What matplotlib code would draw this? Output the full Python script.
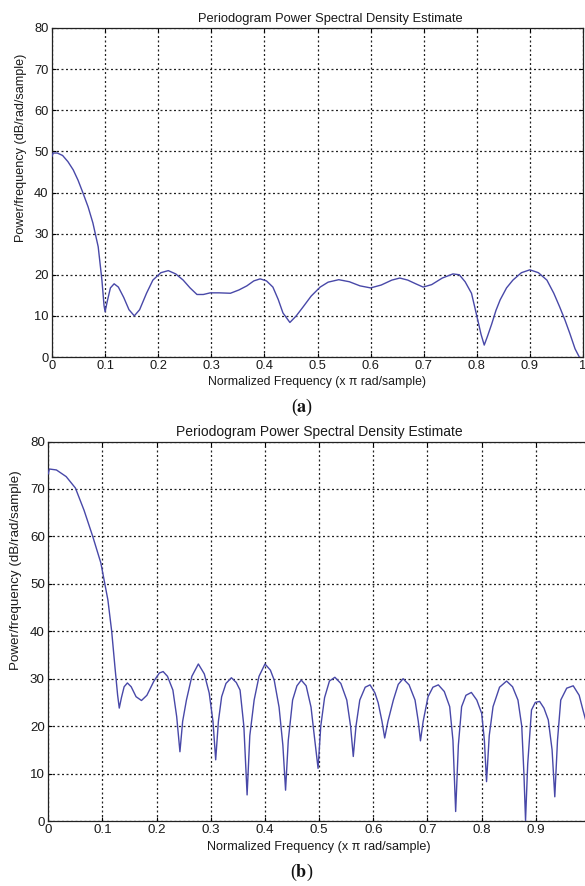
import matplotlib
matplotlib.use("Agg")
import matplotlib.pyplot as plt

plt.rcParams['font.family'] = ['Liberation Sans', 'DejaVu Sans']
plt.rcParams['mathtext.fontset'] = 'stix'

title = "Periodogram Power Spectral Density Estimate"
xlabel = "Normalized Frequency (x \u03c0 rad/sample)"
ylabel = "Power/frequency (dB/rad/sample)"

freq_a = [0.000, 0.002, 0.010, 0.020, 0.030, 0.040, 0.049, 0.058, 0.068, 0.077,
          0.087, 0.094, 0.098, 0.100, 0.104, 0.110, 0.117, 0.125, 0.135, 0.145,
          0.155, 0.165, 0.178, 0.190, 0.205, 0.219, 0.233, 0.247, 0.260, 0.273,
          0.285, 0.298, 0.315, 0.336, 0.352, 0.367, 0.380, 0.392, 0.404, 0.416,
          0.426, 0.435, 0.448, 0.460, 0.473, 0.488, 0.505, 0.520, 0.540, 0.560,
          0.580, 0.600, 0.620, 0.640, 0.655, 0.670, 0.685, 0.699, 0.715, 0.735,
          0.755, 0.767, 0.778, 0.790, 0.800, 0.808, 0.814, 0.820, 0.828, 0.836,
          0.844, 0.856, 0.868, 0.884, 0.900, 0.916, 0.932, 0.945, 0.956, 0.966,
          0.975, 0.985, 0.993, 1.000]
psd_a = [48.8, 49.6, 49.6, 49.0, 47.5, 45.5, 43.0, 40.0, 36.5, 32.6,
         26.8, 18.7, 12.5, 11.0, 13.5, 16.8, 17.8, 17.0, 14.5, 11.5,
         10.0, 11.5, 15.5, 18.7, 20.5, 21.0, 20.2, 18.7, 16.8, 15.2,
         15.2, 15.6, 15.6, 15.5, 16.3, 17.3, 18.5, 19.0, 18.5, 17.0,
         14.0, 10.7, 8.4, 10.0, 12.2, 14.8, 17.0, 18.2, 18.8, 18.3,
         17.3, 16.8, 17.5, 18.7, 19.2, 18.7, 17.8, 17.0, 17.6, 19.2,
         20.2, 20.0, 18.3, 15.5, 10.0, 5.5, 2.9, 5.0, 8.0, 11.3,
         13.9, 16.8, 18.7, 20.5, 21.2, 20.5, 18.7, 15.5, 12.2, 9.0,
         5.8, 2.0, 0.0, -1.5]

freq_b = [0.000, 0.002, 0.015, 0.033, 0.050, 0.066, 0.082, 0.097, 0.104, 0.110,
          0.117, 0.123, 0.128, 0.131, 0.135, 0.140, 0.146, 0.153, 0.162, 0.172,
          0.182, 0.195, 0.205, 0.212, 0.220, 0.230, 0.237, 0.243, 0.248, 0.255,
          0.265, 0.277, 0.288, 0.297, 0.304, 0.309, 0.314, 0.320, 0.328, 0.338,
          0.347, 0.354, 0.361, 0.367, 0.372, 0.380, 0.389, 0.400, 0.410, 0.417,
          0.426, 0.433, 0.438, 0.443, 0.451, 0.459, 0.467, 0.476, 0.485, 0.492,
          0.498, 0.503, 0.510, 0.519, 0.529, 0.540, 0.551, 0.558, 0.563, 0.568,
          0.575, 0.585, 0.594, 0.603, 0.609, 0.616, 0.621, 0.627, 0.637, 0.646,
          0.655, 0.666, 0.677, 0.683, 0.687, 0.692, 0.701, 0.710, 0.720, 0.731,
          0.741, 0.747, 0.752, 0.757, 0.763, 0.771, 0.781, 0.791, 0.800, 0.805,
          0.809, 0.814, 0.821, 0.833, 0.846, 0.857, 0.867, 0.874, 0.878, 0.881,
          0.885, 0.892, 0.899, 0.907, 0.915, 0.923, 0.930, 0.935, 0.940, 0.946,
          0.957, 0.969, 0.980, 0.987, 0.995, 1.000]
psd_b = [73.2, 74.2, 74.0, 72.6, 70.2, 65.5, 60.0, 54.4, 50.2, 46.6,
         40.0, 32.5, 26.5, 23.8, 26.0, 28.3, 29.1, 28.3, 26.2, 25.4,
         26.5, 29.5, 31.2, 31.5, 30.5, 27.6, 22.0, 14.6, 21.0, 25.5,
         30.5, 33.1, 31.0, 27.0, 21.0, 12.9, 21.0, 26.2, 29.0, 30.2,
         29.2, 27.6, 20.0, 5.5, 18.0, 25.5, 30.5, 33.1, 31.8, 29.7,
         24.0, 16.0, 6.5, 17.0, 25.5, 28.5, 29.7, 28.5, 24.0, 17.0,
         11.1, 20.0, 26.0, 29.5, 30.3, 29.0, 25.5, 20.0, 13.6, 20.0,
         25.5, 28.2, 28.7, 27.0, 24.9, 21.0, 17.5, 21.0, 25.5, 28.8,
         30.0, 28.7, 25.5, 21.0, 16.9, 21.0, 26.2, 28.2, 28.7, 27.3,
         24.1, 17.0, 2.0, 16.0, 24.1, 26.5, 27.1, 25.5, 22.7, 17.0,
         8.3, 18.0, 24.1, 28.2, 29.5, 28.3, 25.5, 20.0, 10.0, 0.1,
         12.0, 23.4, 25.0, 25.2, 23.8, 21.3, 15.0, 5.1, 17.0, 25.5,
         28.0, 28.5, 26.5, 23.4, 20.0, 17.0]

xticks_a = [0, 0.1, 0.2, 0.3, 0.4, 0.5, 0.6, 0.7, 0.8, 0.9, 1]
xticklabels_a = ["0", "0.1", "0.2", "0.3", "0.4", "0.5", "0.6", "0.7", "0.8", "0.9", "1"]
xticks_b = [0, 0.1, 0.2, 0.3, 0.4, 0.5, 0.6, 0.7, 0.8, 0.9]
xticklabels_b = ["0", "0.1", "0.2", "0.3", "0.4", "0.5", "0.6", "0.7", "0.8", "0.9"]
yticks = [0, 10, 20, 30, 40, 50, 60, 70, 80]

W, H = 585, 886
fig = plt.figure(figsize=(W / 100, H / 100), dpi=100)

line_color = '#4848a8'
txt_color = '#1a1a1a'


def make_axes(rect_px, f, p, xt, xtl, title_size, title_x, label_size,
              tick_size, xlabelpad, ylab_xy, ylab_size):
    l, t, r, b = rect_px
    ax = fig.add_axes([l / W, 1 - b / H, (r - l) / W, (b - t) / H])
    ax.plot(f, p, color=line_color, lw=1.0, zorder=3)
    ax.set_xlim(0, 1)
    ax.set_ylim(0, 80)
    ax.set_xticks(xt)
    ax.set_xticklabels(xtl)
    ax.set_yticks(yticks)
    ax.grid(True, color='#222222', linestyle=(0, (1.6, 2.0)), linewidth=0.9)
    ax.tick_params(direction='in', length=3, top=True, right=True,
                   labelsize=tick_size, labelcolor=txt_color, pad=2.5, width=0.8)
    for s in ax.spines.values():
        s.set_linewidth(0.9)
        s.set_color('#222222')
    ax.set_title(title, fontsize=title_size, color=txt_color, pad=4, x=title_x)
    ax.set_xlabel(xlabel, fontsize=label_size, color=txt_color, labelpad=xlabelpad)
    fig.text(ylab_xy[0] / W, 1 - ylab_xy[1] / H, ylabel, rotation=90,
             ha='center', va='center', fontsize=ylab_size, color=txt_color)
    return ax


ax1 = make_axes((52, 28, 583, 357), freq_a, psd_a, xticks_a, xticklabels_a,
                title_size=9.3, title_x=0.524, label_size=8.8, tick_size=9.3,
                xlabelpad=2.5, ylab_xy=(21, 148), ylab_size=9.1)
ax2 = make_axes((48.3, 441.5, 590, 821), freq_b, psd_b, xticks_b, xticklabels_b,
                title_size=10.0, title_x=0.5, label_size=9.1, tick_size=9.6,
                xlabelpad=3.5, ylab_xy=(16, 570), ylab_size=9.6)

fig.text(302 / W, 1 - 407 / H, r'($\mathbf{a}$)', ha='center', va='center',
         fontsize=13, family='Liberation Serif', color='#111111')
fig.text(302 / W, 1 - 872 / H, r'($\mathbf{b}$)', ha='center', va='center',
         fontsize=13, family='Liberation Serif', color='#111111')

fig.savefig('out.png', dpi=100)
